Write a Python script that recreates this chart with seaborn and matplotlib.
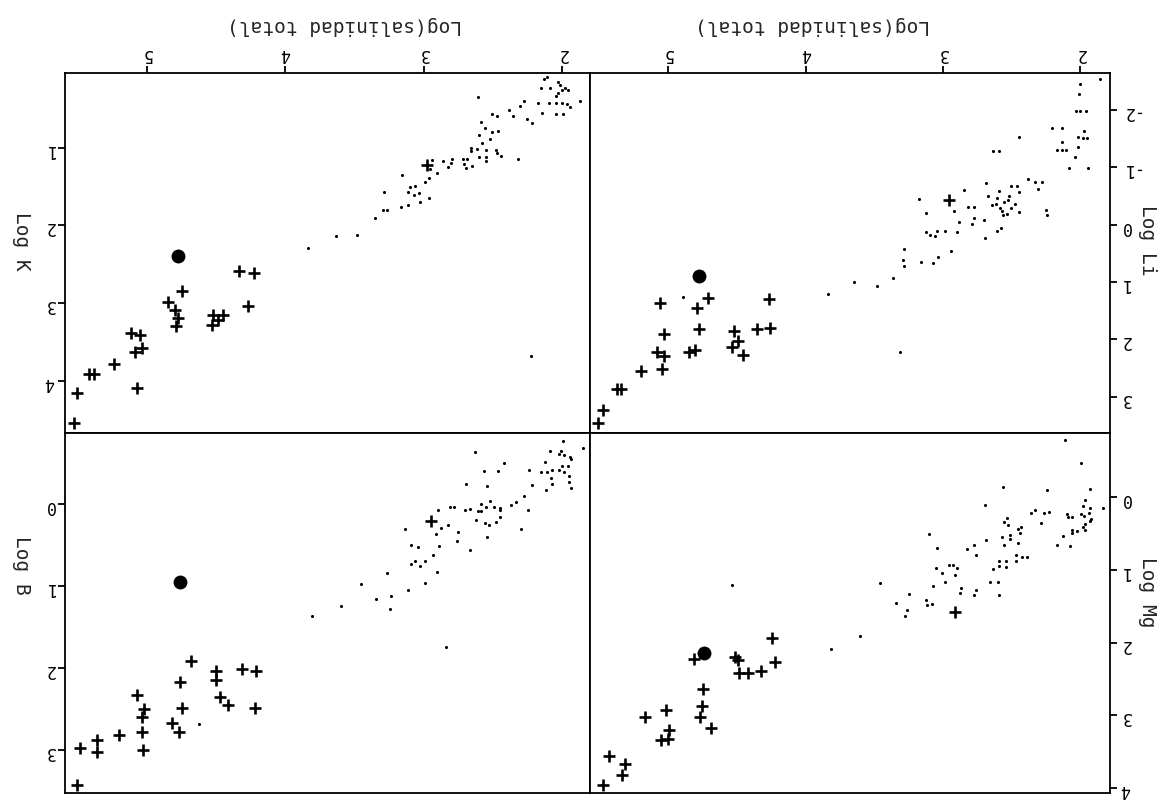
import matplotlib
matplotlib.use("Agg")
import matplotlib.pyplot as plt
import seaborn as sns
import numpy as np
import pandas as pd

# ---- data (log total salinity vs log element) ----
# Log K
k_dot_sal = [2.114, 2.129, 2.151, 2.091, 2.034, 2.017, 1.999, 1.980, 1.960, 2.034, 2.042, 1.875,
             2.173, 2.094, 2.042, 1.999, 1.967, 1.945, 2.278, 2.303, 2.382, 2.357, 2.504, 2.472,
             2.258, 2.218, 2.146, 2.042, 1.997, 2.609, 2.586, 2.559, 2.507, 2.462, 2.601, 2.522,
             2.581, 2.656, 2.614, 2.656, 2.549, 2.482, 2.469, 2.440, 2.601, 2.549, 2.549, 2.318,
             2.718, 2.686, 2.696, 2.651, 2.710, 2.793, 2.862, 2.825, 2.800, 2.942, 2.954, 2.904,
             2.959, 2.994, 3.160, 3.098, 3.066, 3.111, 3.073, 3.031, 3.290, 3.297, 3.265, 3.165,
             3.111, 3.029, 2.962, 3.354, 3.484, 3.633, 3.836, 2.223]
k_dot_val = [0.091, 0.117, 0.232, 0.232, 0.159, 0.189, 0.253, 0.232, 0.262, 0.296, 0.330, 0.403,
             0.432, 0.424, 0.432, 0.424, 0.437, 0.479, 0.394, 0.467, 0.518, 0.595, 0.573, 0.595,
             0.637, 0.680, 0.560, 0.573, 0.573, 0.347, 0.671, 0.752, 0.799, 0.787, 0.842, 0.893,
             0.945, 1.009, 1.013, 1.047, 1.030, 1.030, 1.064, 1.107, 1.115, 1.115, 1.171, 1.149,
             1.141, 1.141, 1.256, 1.235, 1.213, 1.149, 1.171, 1.243, 1.201, 1.158, 1.277, 1.320,
             1.384, 1.440, 1.350, 1.504, 1.499, 1.576, 1.610, 1.585, 1.576, 1.798, 1.798, 1.768,
             1.734, 1.696, 1.645, 1.909, 2.118, 2.131, 2.293, 3.680]
k_plus_sal = [2.979, 4.336, 4.229, 4.747, 4.269, 4.846, 4.796, 4.774, 4.786, 4.523, 4.448, 4.528,
              4.486, 5.117, 5.050, 5.037, 5.087, 5.236, 5.415, 5.378, 5.067, 5.505, 5.527]
k_plus_val = [1.218, 2.592, 2.609, 2.844, 3.036, 2.985, 3.091, 3.190, 3.296, 3.155, 3.147, 3.275,
              3.215, 3.390, 3.411, 3.574, 3.633, 3.783, 3.915, 3.915, 4.094, 4.150, 4.547]
k_circle = (4.771, 2.400)

# Log Li
li_dot_sal = [1.857, 2.000, 2.012, 2.030, 2.000, 1.962, 2.208, 2.133, 1.972, 2.444, 2.131, 2.020,
              1.983, 1.950, 2.020, 2.168, 2.138, 2.105, 2.640, 2.590, 2.043, 2.083, 1.942, 2.382,
              2.331, 2.281, 2.306, 2.251, 2.244, 2.690, 2.846, 2.507, 2.464, 2.444, 2.520, 2.670,
              2.590, 2.610, 2.530, 2.560, 2.645, 2.615, 2.480, 2.585, 2.507, 2.570, 2.532, 2.563,
              2.447, 2.816, 2.778, 2.924, 2.778, 2.703, 2.791, 2.886, 2.577, 2.610, 2.695, 2.899,
              2.987, 3.042, 3.122, 3.097, 3.062, 3.122, 3.173, 2.941, 3.034, 3.074, 3.160, 3.286,
              3.291, 3.286, 3.366, 3.481, 3.652, 3.838, 3.316, 4.890]
li_dot_val = [-2.538, -2.462, -2.289, -1.988, -1.988, -1.988, -1.682, -1.682, -1.642, -1.538, -1.451,
              -1.538, -1.515, -1.515, -1.347, -1.295, -1.295, -1.295, -1.289, -1.289, -1.173, -0.983,
              -0.983, -0.798, -0.740, -0.740, -0.624, -0.254, -0.174, -0.728, -0.613, -0.682, -0.682,
              -0.567, -0.497, -0.497, -0.584, -0.468, -0.439, -0.393, -0.335, -0.364, -0.364, -0.295,
              -0.289, -0.231, -0.191, -0.162, -0.220, -0.301, -0.301, -0.231, -0.121, -0.081, -0.017,
              -0.046, 0.052, 0.110, 0.237, 0.133, 0.104, 0.104, 0.121, 0.179, 0.196, -0.197, -0.451,
              0.468, 0.566, 0.665, 0.653, 0.428, 0.618, 0.722, 0.925, 1.069, 0.994, 1.202, 2.225, 1.266]
li_plus_sal = [2.954, 5.058, 4.712, 4.789, 4.265, 5.030, 4.779, 4.523, 4.352, 4.257, 4.493, 4.536,
               4.453, 4.850, 4.804, 5.081, 5.033, 5.043, 5.201, 5.372, 5.347, 5.477, 5.510]
li_plus_val = [-0.422, 1.364, 1.283, 1.456, 1.295, 1.902, 1.826, 1.850, 1.826, 1.803, 2.023, 2.138,
               2.277, 2.231, 2.185, 2.219, 2.289, 2.520, 2.555, 2.867, 2.867, 3.231, 3.462]
li_circle = (4.779, 0.902)

# Log B
b_dot_sal = [1.997, 2.091, 2.009, 2.022, 1.985, 1.945, 1.935, 1.848, 2.126, 1.999, 1.960, 2.022,
             2.072, 2.109, 2.154, 1.987, 1.950, 2.079, 1.955, 2.074, 2.216, 1.937, 2.116, 2.241,
             2.422, 2.462, 2.564, 2.631, 2.693, 2.546, 2.278, 2.333, 2.367, 2.248, 2.519, 2.586,
             2.551, 2.492, 2.450, 2.450, 2.586, 2.611, 2.663, 2.705, 2.783, 2.812, 2.899, 2.452,
             2.482, 2.527, 2.559, 2.626, 2.298, 2.544, 2.663, 2.755, 2.763, 2.822, 2.875, 2.912,
             2.892, 2.937, 2.907, 2.991, 2.991, 3.029, 3.066, 3.093, 3.091, 3.044, 3.136, 3.116,
             3.265, 3.240, 3.247, 3.342, 3.451, 3.595, 3.807, 2.840, 4.622]
b_dot_val = [-0.768, -0.641, -0.645, -0.600, -0.592, -0.572, -0.539, -0.682, -0.510, -0.457, -0.457,
             -0.408, -0.408, -0.380, -0.380, -0.380, -0.339, -0.306, -0.265, -0.237, -0.225, -0.184,
             -0.159, -0.408, -0.490, -0.400, -0.400, -0.625, -0.241, -0.212, -0.094, -0.021, 0.020,
             0.082, -0.033, 0.008, 0.041, 0.041, 0.053, 0.082, 0.090, 0.094, 0.069, 0.082, 0.041,
             0.041, 0.082, 0.167, 0.229, 0.257, 0.233, 0.204, 0.310, 0.408, 0.571, 0.347, 0.461,
             0.265, 0.298, 0.367, 0.514, 0.633, 0.837, 0.702, 0.967, 0.767, 0.702, 0.739, 0.502,
             0.531, 0.306, 1.053, 0.845, 1.127, 1.286, 1.167, 0.980, 1.253, 1.376, 1.747, 2.686]
b_plus_sal = [2.949, 4.682, 4.759, 4.498, 4.500, 4.311, 4.212, 4.217, 4.473, 4.416, 4.747, 5.067,
              5.020, 5.037, 5.032, 4.814, 4.764, 5.025, 5.199, 5.356, 5.361, 5.485, 5.505]
b_plus_val = [0.216, 1.918, 2.176, 2.041, 2.147, 2.012, 2.041, 2.490, 2.355, 2.457, 2.494, 2.331,
              2.510, 2.604, 2.784, 2.682, 2.784, 3.000, 2.821, 2.886, 3.033, 2.980, 3.429]
b_circle = (4.759, 0.955)

# Log Mg
mg_dot_sal = [2.113, 1.995, 2.567, 2.246, 1.927, 2.695, 1.839, 1.967, 1.982, 1.932, 2.331, 2.357,
              2.269, 2.231, 2.095, 2.093, 2.058, 1.995, 1.975, 1.937, 1.920, 1.930, 1.967, 1.982,
              1.970, 2.027, 2.058, 2.058, 2.128, 2.173, 2.073, 2.286, 2.532, 2.560, 2.525, 2.432,
              2.452, 2.439, 2.510, 2.570, 2.512, 2.560, 2.457, 2.690, 2.778, 2.829, 2.761, 3.102,
              3.047, 2.472, 2.427, 2.389, 2.472, 2.590, 2.545, 2.590, 2.540, 2.633, 2.658, 2.600,
              2.595, 2.758, 2.778, 2.871, 2.874, 2.959, 2.929, 2.896, 3.049, 3.007, 2.911, 2.989,
              3.072, 3.122, 3.117, 3.077, 3.248, 3.341, 3.263, 3.275, 3.456, 3.607, 3.813, 4.533]
mg_dot_val = [-0.783, -0.470, -0.143, -0.097, -0.115, 0.106, 0.152, 0.042, 0.115, 0.143, 0.175, 0.212,
              0.221, 0.198, 0.235, 0.277, 0.267, 0.230, 0.254, 0.212, 0.304, 0.327, 0.373, 0.406,
              0.452, 0.466, 0.452, 0.498, 0.530, 0.654, 0.668, 0.355, 0.290, 0.336, 0.383, 0.406,
              0.442, 0.498, 0.521, 0.553, 0.576, 0.654, 0.627, 0.585, 0.654, 0.714, 0.788, 0.507,
              0.696, 0.797, 0.820, 0.820, 0.876, 0.871, 0.880, 0.949, 0.959, 0.991, 1.161, 1.161,
              1.350, 1.272, 1.341, 1.249, 1.313, 0.926, 0.926, 0.972, 0.972, 1.037, 1.074, 1.166,
              1.226, 1.410, 1.488, 1.465, 1.336, 1.456, 1.558, 1.636, 1.175, 1.912, 2.088, 1.212]
mg_plus_sal = [2.916, 4.247, 4.227, 4.812, 4.518, 4.493, 4.486, 4.423, 4.322, 4.749, 4.754, 4.769,
               4.691, 5.018, 5.171, 4.995, 5.050, 5.000, 5.435, 5.314, 5.339, 5.477]
mg_plus_val = [1.581, 1.935, 2.272, 2.226, 2.203, 2.235, 2.419, 2.419, 2.396, 2.641, 2.871, 3.023,
               3.170, 2.931, 3.018, 3.203, 3.341, 3.322, 3.562, 3.664, 3.829, 3.963]
mg_circle = (4.742, 2.143)

sal_ticks = [2, 3, 4, 5]
k_ticks = [1, 2, 3, 4]
li_ticks = [-2, -1, 0, 1, 2, 3]
b_ticks = [0, 1, 2, 3]
mg_ticks = [0, 1, 2, 3, 4]

sns.set_theme(style="white")
plt.rcParams["font.family"] = ["DejaVu Sans Mono", "DejaVu Sans"]

fig = plt.figure(figsize=(11.63, 8.02), dpi=100)
W, H = 1163, 802


def add_ax(x0, x1, y0, y1):
    return fig.add_axes([x0 / W, 1 - y1 / H, (x1 - x0) / W, (y1 - y0) / H])


def panel(ax, dsal, dval, psal, pval, circ, xlim, ylim, yticks, side, top):
    dots = pd.DataFrame({"sal": dsal, "val": dval})
    plus = pd.DataFrame({"sal": psal, "val": pval})
    sns.scatterplot(data=dots, x="sal", y="val", ax=ax, s=5, color="black",
                    linewidth=0, legend=False)
    sns.scatterplot(data=plus, x="sal", y="val", ax=ax, marker="+", s=85,
                    color="black", linewidth=1.9, legend=False)
    sns.scatterplot(x=[circ[0]], y=[circ[1]], ax=ax, s=100, color="black",
                    linewidth=0, legend=False)
    ax.set_xlim(xlim)
    ax.set_ylim(ylim)
    ax.set_xlabel("")
    ax.set_ylabel("")
    for sp in ax.spines.values():
        sp.set_color("black")
        sp.set_linewidth(1.3)
    ax.set_yticks(yticks)
    ax.set_yticklabels([str(t) for t in yticks], rotation=180)
    if side == "right":
        ax.yaxis.tick_right()
    else:
        ax.yaxis.tick_left()
    if top:
        ax.xaxis.tick_top()
        ax.set_xticks(sal_ticks)
        ax.set_xticklabels([str(t) for t in sal_ticks], rotation=180)
    else:
        ax.set_xticks([])
    ax.tick_params(direction="out", length=5, width=1.3, labelsize=12, pad=2.5,
                   colors="black")


ax_k = add_ax(65, 590, 73, 433)
ax_li = add_ax(590, 1110, 73, 433)
ax_b = add_ax(65, 590, 433, 793)
ax_mg = add_ax(590, 1110, 433, 793)

panel(ax_k, k_dot_sal, k_dot_val, k_plus_sal, k_plus_val, k_circle,
      (5.59, 1.80), (4.67, 0.04), k_ticks, "left", True)
panel(ax_li, li_dot_sal, li_dot_val, li_plus_sal, li_plus_val, li_circle,
      (5.57, 1.785), (3.636, -2.647), li_ticks, "right", True)
panel(ax_b, b_dot_sal, b_dot_val, b_plus_sal, b_plus_val, b_circle,
      (5.59, 1.80), (3.53, -0.86), b_ticks, "left", False)
panel(ax_mg, mg_dot_sal, mg_dot_val, mg_plus_sal, mg_plus_val, mg_circle,
      (5.57, 1.785), (4.07, -0.885), mg_ticks, "right", False)

# axis titles, upside down like the scan
fig.text(345 / W, 1 - 25 / H, "Log(salinidad total)", rotation=180, fontsize=14,
         ha="center", va="center")
fig.text(812 / W, 1 - 25 / H, "Log(salinidad total)", rotation=180, fontsize=14,
         ha="center", va="center")
fig.text(21 / W, 1 - 241 / H, "Log K", rotation=270, fontsize=14, ha="center", va="center")
fig.text(21 / W, 1 - 565 / H, "Log B", rotation=270, fontsize=14, ha="center", va="center")
fig.text(1148 / W, 1 - 240 / H, "Log Li", rotation=270, fontsize=14, ha="center", va="center")
fig.text(1148 / W, 1 - 592 / H, "Log Mg", rotation=270, fontsize=14, ha="center", va="center")

fig.savefig("out.png", dpi=100, facecolor="white")
